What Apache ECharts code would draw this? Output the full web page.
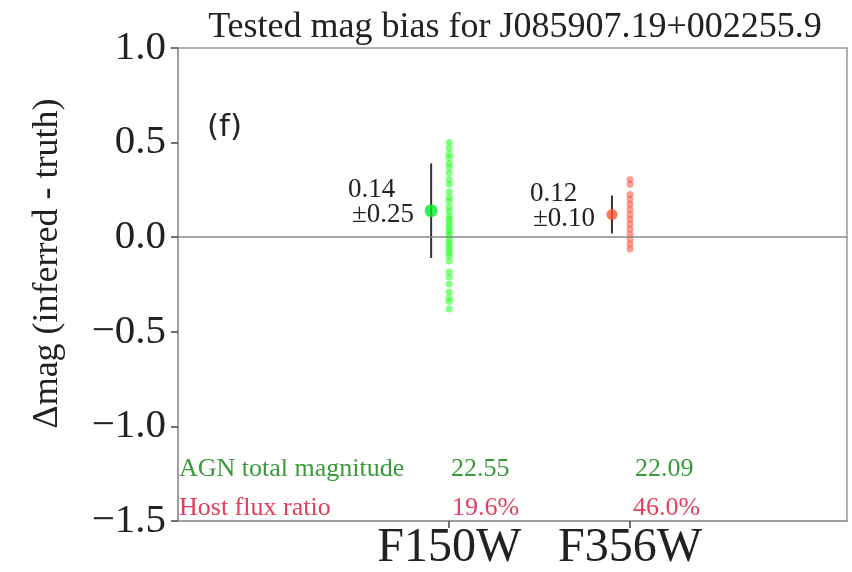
<!DOCTYPE html>
<html>
<head>
<meta charset="utf-8">
<title>Tested mag bias</title>
<script src="https://cdn.jsdelivr.net/npm/echarts@6/dist/echarts.min.js"></script>
<style>
  html, body { margin: 0; padding: 0; background: #fff; }
  #chart { width: 852px; height: 572px; }
</style>
</head>
<body>
<div id="chart"></div>
<script>
// bands on the x axis (x = 1, 2)
const bands = ["F150W", "F356W"];
const yTicks = [-1.5, -1.0, -0.5, 0.0, 0.5, 1.0];

// individual tested draws, delta mag
const f150wDraws = [0.50, 0.47, 0.44, 0.42, 0.39, 0.37, 0.34, 0.305, 0.28, 0.24, 0.21, 0.19,
  0.16, 0.137, 0.11, 0.095, 0.075, 0.058, 0.04, 0.026, 0.01, -0.01, -0.03, -0.047, -0.065,
  -0.084, -0.10, -0.126, -0.184, -0.21, -0.247, -0.29, -0.32, -0.34, -0.38];
const f356wDraws = [0.305, 0.28, 0.226, 0.20, 0.174, 0.147, 0.12, 0.095, 0.068, 0.042,
  0.016, -0.01, -0.037, -0.063];

// mean and scatter per band
const means = [0.14, 0.12];
const errors = [0.25, 0.10];

// table rows under the points
const agnMag = ["22.55", "22.09"];
const hostRatio = ["19.6%", "46.0%"];

const serif = "Liberation Serif, Times New Roman, serif";
const meanOffset = -0.1;
const green = "#3a9a3a";
const pink = "#e0405e";

let myChart = echarts.init(document.getElementById("chart"));

const errSeries = means.map((m, i) => ({
  type: "line",
  data: [[i + 1 + meanOffset, m - errors[i]], [i + 1 + meanOffset, m + errors[i]]],
  symbol: "none",
  lineStyle: { color: "#333", width: 2 },
  z: 3
}));

function txt(x, y, s, size, color) {
  return {
    type: "text", x: x, y: y,
    style: { text: s, font: size + "px " + serif, fill: color, verticalAlign: "top" }
  };
}

myChart.setOption({
  animation: false,
  title: {
    text: "Tested mag bias for J085907.19+002255.9",
    left: 510,
    top: 5,
    textAlign: "center",
    textStyle: { fontFamily: serif, fontSize: 36, fontWeight: "normal", color: "#222" }
  },
  grid: {
    left: 178, right: 5, top: 48, bottom: 49,
    show: true, borderColor: "#999", borderWidth: 1.5
  },
  xAxis: {
    type: "value",
    min: -0.5,
    max: 3.2,
    splitLine: { show: false },
    axisLine: { onZero: false, lineStyle: { color: "#999", width: 1.5 } },
    axisTick: { customValues: [1, 2], length: 7, lineStyle: { color: "#444", width: 1.5 } },
    axisLabel: {
      customValues: [1, 2],
      formatter: v => bands[Math.round(v) - 1],
      fontFamily: serif, fontSize: 48, color: "#222", margin: 3
    }
  },
  yAxis: {
    type: "value",
    min: -1.5,
    max: 1.0,
    interval: 0.5,
    name: "Δmag (inferred - truth)",
    nameLocation: "middle",
    nameGap: 112,
    nameTextStyle: { fontFamily: serif, fontSize: 36, color: "#222", padding: [0, 0, 0, 42] },
    splitLine: { show: false },
    axisLine: { show: true, onZero: false, lineStyle: { color: "#999", width: 1.5 } },
    axisTick: { show: true, length: 7, lineStyle: { color: "#444", width: 1.5 } },
    axisLabel: {
      customValues: yTicks,
      formatter: v => (v < 0 ? "\u2212" : "") + Math.abs(v).toFixed(1),
      fontFamily: serif, fontSize: 41, color: "#222", margin: 12
    }
  },
  series: [
    {
      type: "scatter",
      data: f150wDraws.map(v => [1, v]),
      symbolSize: 7,
      itemStyle: { color: "rgba(40,255,40,0.7)" },
      markLine: {
        silent: true,
        symbol: "none",
        label: { show: false },
        lineStyle: { color: "#888", width: 1.5, type: "solid" },
        data: [{ yAxis: 0 }]
      },
      z: 4
    },
    {
      type: "scatter",
      data: f356wDraws.map(v => [2, v]),
      symbolSize: 7,
      itemStyle: { color: "rgba(255,80,60,0.7)" },
      z: 4
    },
    ...errSeries,
    {
      type: "scatter",
      data: [[1 + meanOffset, means[0]]],
      symbolSize: 13,
      itemStyle: { color: "#00ee22" },
      z: 5
    },
    {
      type: "scatter",
      data: [[2 + meanOffset, means[1]]],
      symbolSize: 11,
      itemStyle: { color: "#ff5530" },
      z: 5
    }
  ],
  graphic: [
    { type: "text", x: 207, y: 112,
      style: { text: "(f)", font: "31px DejaVu Sans", fill: "#222", verticalAlign: "top" } },
    txt(348, 176, means[0].toFixed(2), 27, "#222"),
    txt(352, 201, "±" + errors[0].toFixed(2), 27, "#222"),
    txt(530, 180, means[1].toFixed(2), 27, "#222"),
    txt(533, 205, "±" + errors[1].toFixed(2), 27, "#222"),
    txt(179, 456, "AGN total magnitude", 26, green),
    txt(451, 456, agnMag[0], 26, green),
    txt(635, 456, agnMag[1], 26, green),
    txt(179, 495, "Host flux ratio", 26, pink),
    txt(452, 495, hostRatio[0], 26, pink),
    txt(633, 495, hostRatio[1], 26, pink)
  ]
});
window.addEventListener("resize", function() {
  myChart.resize();
});
</script>
</body>
</html>
